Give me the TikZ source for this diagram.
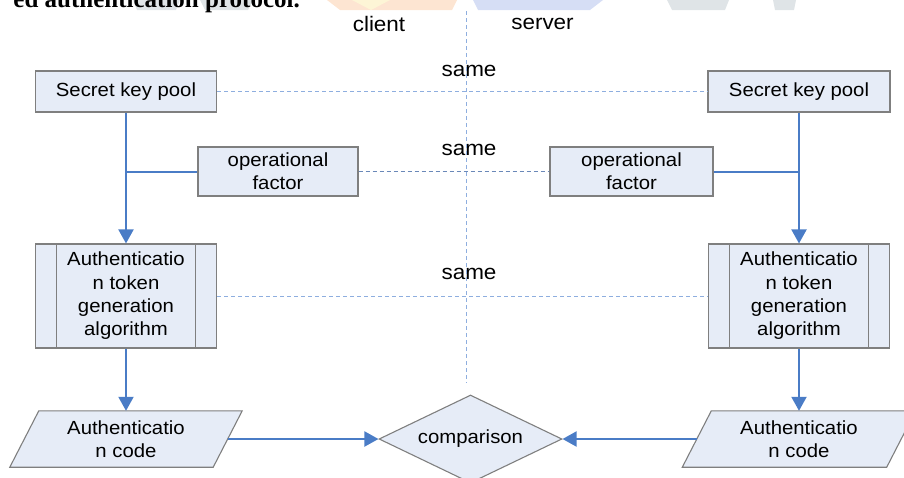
\documentclass[tikz,border=0pt]{standalone}
\usepackage{fontspec}
\setmainfont{Liberation Sans}[FakeStretch=1.07]
\newfontfamily\titlefont{Liberation Serif}
\usetikzlibrary{shapes.geometric,arrows.meta,backgrounds}

\definecolor{boxfill}{HTML}{E6ECF7}
\definecolor{boxline}{HTML}{7F7F7F}
\definecolor{flow}{HTML}{4A7CC6}
\definecolor{guide}{HTML}{8EAEDF}
\definecolor{guidedark}{HTML}{6A88B8}
\definecolor{wmorange}{HTML}{FDE5D2}
\definecolor{wmyellow}{HTML}{FDF5D6}
\definecolor{wmblue}{HTML}{D6DEF5}
\definecolor{wmgray}{HTML}{DFE4E7}

\tikzset{
  outline/.style={draw=boxline, fill=boxfill, line width=1.1pt},
  box/.style={outline, inner sep=0pt, align=center,
    font=\fontsize{19}{23.3}\selectfont},
  plain/.style={inner sep=0pt, align=center,
    font=\fontsize{19}{23.3}\selectfont},
  flowline/.style={draw=flow, line width=2pt},
  flowarrow/.style={flowline, -{Triangle[length=14pt,width=15pt]}},
  sameline/.style={draw=guide, line width=0.9pt, dash pattern=on 4pt off 3pt},
  tag/.style={inner sep=0pt, font=\fontsize{21}{25}\selectfont}
}

\begin{document}
\begin{tikzpicture}[x=1pt,y=-1pt]
\useasboundingbox (0,0) rectangle (904,477);

% page heading above the figure
\node[anchor=base east, inner sep=0pt,
      font=\titlefont\fontsize{25}{30}\selectfont\bfseries] (title) at (300,7)
      {ed authentication protocol.};

% side captions and the client/server divider
\node[tag] (client) at (379,24) {client};
\node[tag] (server) at (542.5,24) {server};
\coordinate (divTop) at (466,11);
\coordinate (divBot) at (466,383);

% client side
\node[box, minimum width=181pt, minimum height=41pt] (skpL) at (126,91.5) {Secret key pool};
\node[box, minimum width=160pt, minimum height=49pt] (opL) at (278,171.5) {operational\\factor};
\node[box, minimum width=181pt, minimum height=104pt] (atL) at (126,296)
  {Authenticatio\\n token\\generation\\algorithm};
\node[plain, minimum width=203pt, minimum height=56pt] (codeL) at (126,439)
  {Authenticatio\\n code};

% server side
\node[box, minimum width=182pt, minimum height=41pt] (skpR) at (799,91.5) {Secret key pool};
\node[box, minimum width=163pt, minimum height=49pt] (opR) at (631.5,171.5) {operational\\factor};
\node[box, minimum width=181pt, minimum height=104pt] (atR) at (799,296)
  {Authenticatio\\n token\\generation\\algorithm};
\node[plain, minimum width=204pt, minimum height=56pt] (codeR) at (799,439)
  {Authenticatio\\n code};

% decision
\node[box, diamond, aspect=2, minimum width=183pt, minimum height=88pt] (cmp)
  at (470.5,439) {comparison};

% "same" captions
\node[tag] (same1) at (469,71) {same};
\node[tag] (same2) at (469,150) {same};
\node[tag] (same3) at (469,274) {same};

% predefined-process side bars
\foreach \n in {atL,atR}{
  \draw[draw=boxline, line width=1.1pt]
    ([xshift=21.5pt]\n.north west) -- ([xshift=21.5pt]\n.south west);
  \draw[draw=boxline, line width=1.1pt]
    ([xshift=-21.5pt]\n.north east) -- ([xshift=-21.5pt]\n.south east);
}

\begin{scope}[on background layer]
  % faint logo strip along the top edge
  \fill[wmgray] (133,0) -- (180,0) -- (176,10) -- (137,10) -- cycle;
  \fill[wmgray] (200,0) -- (253,0) -- (248,10) -- (205,10) -- cycle;
  \fill[wmorange] (327,0) -- (457,0) -- (452,10) -- (340,10) -- cycle;
  \fill[wmyellow] (352,0) -- (390,0) -- (371,10) -- cycle;
  \fill[wmblue] (473,0) -- (603,0) -- (590,10) -- (478,10) -- cycle;
  \fill[wmgray] (667,0) -- (729,0) -- (725,10) -- (672,10) -- cycle;
  \fill[wmgray] (773,0) -- (796,0) -- (794,10) -- (775,10) -- cycle;
  % data (parallelogram) outlines
  \foreach \n in {codeL,codeR}{
    \draw[outline] ([xshift=-14.5pt]\n.south west) -- ([xshift=-14.5pt]\n.south east)
      -- ([xshift=14.5pt]\n.north east) -- ([xshift=14.5pt]\n.north west) -- cycle;
  }
\end{scope}

% dashed correspondence lines
\draw[sameline] (divTop) -- (divBot);
\draw[sameline] (skpL.east) -- (skpR.west);
\draw[sameline, draw=guidedark] (opL.east) -- (opR.west);
\draw[sameline] (atL.east) -- (atR.west);

% flow
\draw[flowarrow] (skpL.south) -- (atL.north);
\draw[flowline] (opL.west) -- (opL.west -| skpL.south);
\draw[flowarrow] (atL.south) -- (codeL.north);
\draw[flowarrow] (codeL.east) -- (cmp.west);

\draw[flowarrow] (skpR.south) -- (atR.north);
\draw[flowline] (opR.east) -- (opR.east -| skpR.south);
\draw[flowarrow] (atR.south) -- (codeR.north);
\draw[flowarrow] (codeR.west) -- (cmp.east);
\end{tikzpicture}
\end{document}
